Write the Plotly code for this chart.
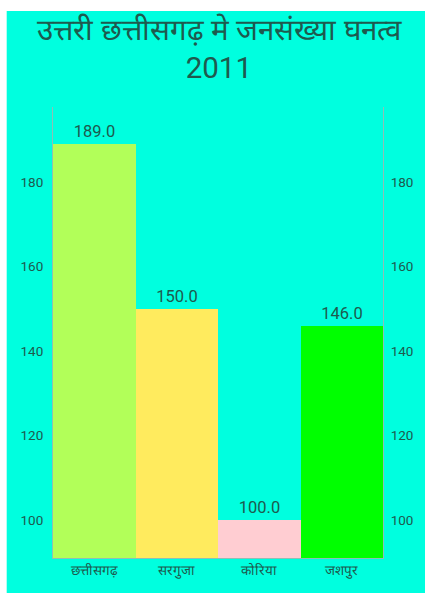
import plotly.graph_objects as go

categories = ["छत्तीसगढ़", "सरगुजा", "कोरिया", "जशपुर"]
values = [189.0, 150.0, 100.0, 146.0]
bar_colors = ["#B2FF59", "#FFEB5E", "#FFCDD2", "#00FF00"]
tick_vals = [100, 120, 140, 160, 180]
title_text = "उत्तरी छत्तीसगढ़ मे जनसंख्या घनत्व<br>2011"

W, H = 425, 593
L, R, T, B = 53, 37, 107, 35
pw, ph = W - L - R, H - T - B
def px_x(px):
    return (px - L) / pw
def px_y(py):
    return (H - B - py) / ph

text_col = "#1E5A4E"
axis_col = "#8FBFB5"
bg = "#00FFDF"

fig = go.Figure()
fig.add_trace(go.Bar(
    x=categories, y=values,
    marker=dict(color=bar_colors, line=dict(width=0)),
    text=[f"{v:.1f}" for v in values],
    textposition="outside",
    textfont=dict(size=16.5, color=text_col, family="Roboto"),
    cliponaxis=False,
    width=1.0,
))
fig.add_trace(go.Bar(x=categories, y=values, yaxis="y2", opacity=0,
                     hoverinfo="skip", showlegend=False, width=1.0))

# white page border at left and top (outside the cyan card)
fig.add_shape(type="rect", xref="paper", yref="paper", layer="below",
              x0=px_x(-10), x1=px_x(6), y0=px_y(650), y1=px_y(-10),
              fillcolor="white", line=dict(width=0))
fig.add_shape(type="rect", xref="paper", yref="paper", layer="below",
              x0=px_x(-10), x1=px_x(450), y0=px_y(11), y1=px_y(-10),
              fillcolor="white", line=dict(width=0))

yr = [91, 197.8]
fig.update_layout(
    width=W, height=H,
    margin=dict(l=L, r=R, t=T, b=B),
    paper_bgcolor=bg,
    plot_bgcolor=bg,
    showlegend=False,
    bargap=0,
    barmode="overlay",
    title=dict(text=title_text, x=0.515, xanchor="center",
               y=1 - 40 / H, yanchor="top", yref="container",
               font=dict(size=29.5, color=text_col, family="Roboto")),
    xaxis=dict(showgrid=False, showline=True, linecolor=axis_col, linewidth=1,
               ticks="", tickfont=dict(size=13.5, color=text_col),
               range=[-0.5, 3.5], fixedrange=True),
    yaxis=dict(range=yr, tickvals=tick_vals, showgrid=False, zeroline=False,
               showline=True, linecolor=axis_col, linewidth=1, ticks="",
               ticklabelstandoff=6,
               tickfont=dict(size=13.5, color=text_col, family="Roboto")),
    yaxis2=dict(range=yr, tickvals=tick_vals, overlaying="y", side="right",
                showgrid=False, zeroline=False, showline=True,
                linecolor=axis_col, linewidth=1, ticks="",
                ticklabelstandoff=4,
                tickfont=dict(size=13.5, color=text_col, family="Roboto")),
)

fig.write_html("out.html")
